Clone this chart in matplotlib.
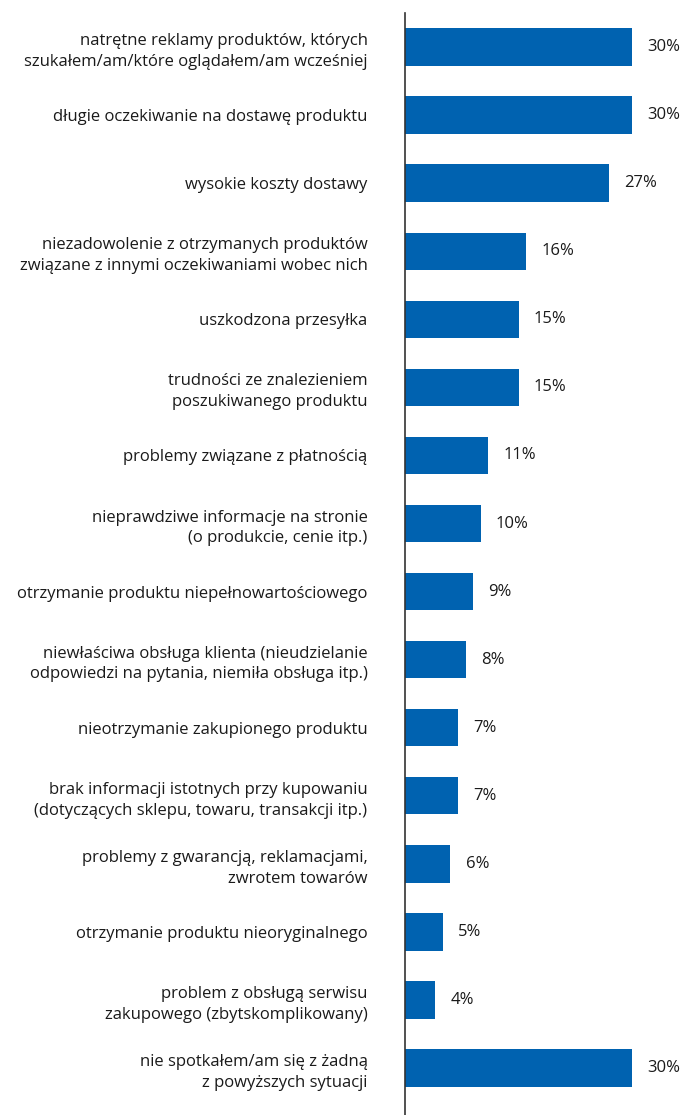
import numpy as np
import matplotlib
matplotlib.use("Agg")
import matplotlib.pyplot as plt

# reasons / problems with online shopping
labels = [
    "natrętne reklamy produktów, których\nszukałem/am/które oglądałem/am wcześniej",
    "długie oczekiwanie na dostawę produktu",
    "wysokie koszty dostawy",
    "niezadowolenie z otrzymanych produktów\nzwiązane z innymi oczekiwaniami wobec nich",
    "uszkodzona przesyłka",
    "trudności ze znalezieniem\nposzukiwanego produktu",
    "problemy związane z płatnością",
    "nieprawdziwe informacje na stronie\n(o produkcie, cenie itp.)",
    "otrzymanie produktu niepełnowartościowego",
    "niewłaściwa obsługa klienta (nieudzielanie\nodpowiedzi na pytania, niemiła obsługa itp.)",
    "nieotrzymanie zakupionego produktu",
    "brak informacji istotnych przy kupowaniu\n(dotyczących sklepu, towaru, transakcji itp.)",
    "problemy z gwarancją, reklamacjami,\nzwrotem towarów",
    "otrzymanie produktu nieoryginalnego",
    "problem z obsługą serwisu\nzakupowego (zbytskomplikowany)",
    "nie spotkałem/am się z żadną\nz powyższych sytuacji",
]
values = [30, 30, 27, 16, 15, 15, 11, 10, 9, 8, 7, 7, 6, 5, 4, 30]

plt.rcParams['font.family'] = ['Open Sans', 'DejaVu Sans']
text_color = '#1a1a1a'
bar_color = '#0062b0'

W, H = 681, 1115
fig = plt.figure(figsize=(W / 100, H / 100), dpi=100)
# axes spans from the vertical line to the right edge
ax = fig.add_axes([405 / W, 0, 1 - 405 / W, 1 - 13 / H])

y = np.arange(len(values))
ax.barh(y, values, height=0.55, color=bar_color)

ax.set_xlim(0, 30 * (W - 405) / 227)
ax.set_ylim(15.69, -0.5)

ax.set_yticks(y)
ax.set_yticklabels(labels, fontsize=12, color=text_color, linespacing=1.4)
ax.tick_params(axis='y', length=0, pad=27)
ax.set_xticks([])

for s in ['top', 'right', 'bottom']:
    ax.spines[s].set_visible(False)
ax.spines['left'].set_color('#333333')
ax.spines['left'].set_linewidth(1.2)

#value labels next to bars
for i, v in enumerate(values):
    ax.annotate(f"{v}%", (v, i), xytext=(11, 0), textcoords='offset points',
                va='center', ha='left', fontsize=12, color=text_color)

fig.savefig("out.png", dpi=100)
